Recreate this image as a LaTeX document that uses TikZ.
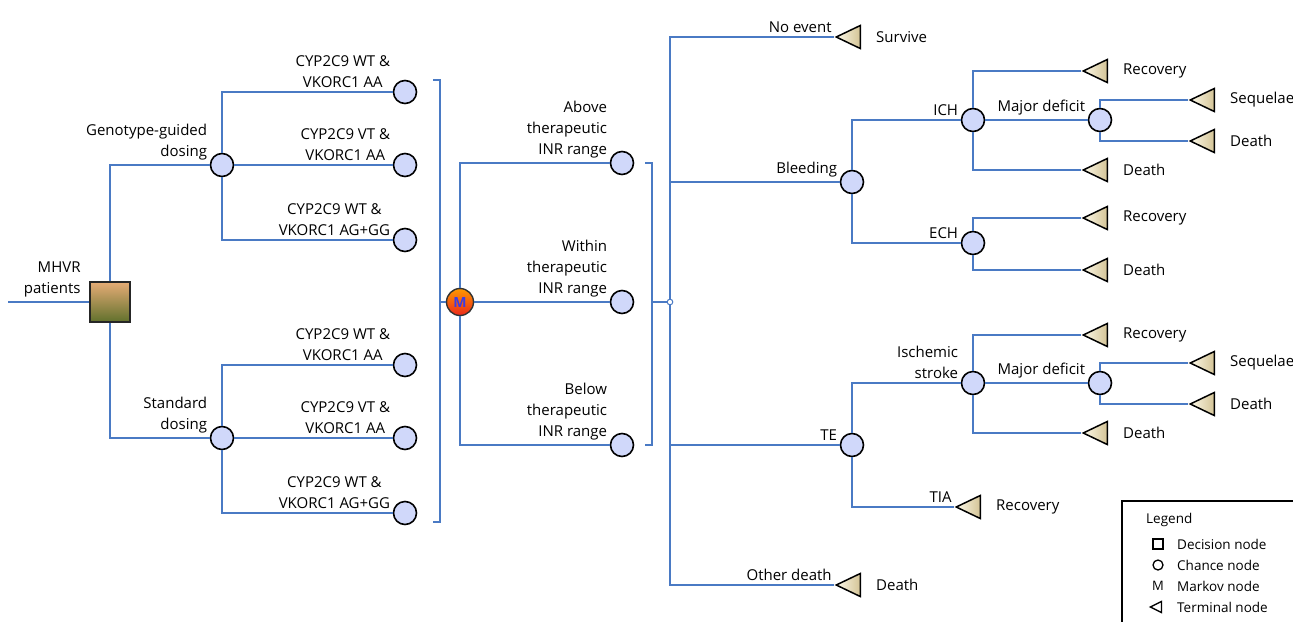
\documentclass[tikz,border=0pt]{standalone}
\usepackage{fontspec}
\setmainfont{Open Sans}
\usetikzlibrary{shapes.geometric}
\definecolor{branchblue}{RGB}{74,122,196}
\definecolor{chancefill}{RGB}{208,216,250}
\definecolor{termlight}{RGB}{252,248,232}
\definecolor{termdark}{RGB}{212,196,150}
\tikzset{
	branch/.style={draw=branchblue, line width=1.3pt},
	chance/.style={circle, draw=black, line width=1.6pt, fill=chancefill,
			minimum size=23pt, inner sep=0pt},
	terminal/.style={isosceles triangle, shape border rotate=180,
			isosceles triangle stretches, draw=black, line width=1.5pt,
			left color=termlight, right color=termdark,
			minimum width=23pt, minimum height=24pt, inner sep=0pt},
	decision/.style={rectangle, draw=black!85, line width=1.6pt,
			top color={rgb,255:red,230;green,172;blue,118},
			middle color={rgb,255:red,196;green,104;blue,52},
			bottom color={rgb,255:red,96;green,112;blue,44},
			minimum size=40pt, inner sep=0pt},
	markov/.style={circle, draw=black!80, line width=1.4pt,
			top color={rgb,255:red,255;green,152;blue,0},
			bottom color={rgb,255:red,236;green,40;blue,28},
			minimum size=27pt, inner sep=0pt,
			text={rgb,255:red,60;green,60;blue,230}, font=\bfseries\fontsize{14}{14}\selectfont},
	lbl/.style={anchor=south east, align=right, inner sep=2pt, yshift=2pt,
			font=\fontsize{15}{21}\selectfont},
	res/.style={inner sep=2pt, font=\fontsize{15}{21}\selectfont},
	legtext/.style={anchor=west, inner sep=0pt, font=\fontsize{13.5}{15}\selectfont}
}
\begin{document}
\begin{tikzpicture}[x=1pt, y=-1pt, label distance=13pt]
	\useasboundingbox (0,0) rectangle (1293,622);

	% decision and strategies
	\coordinate (st) at (8,302);
	\node[decision] (D) at (110,302) {};
	\node[chance] (g) at (222,165) {};
	\node[chance] (s) at (222,438) {};
	\draw[branch] (st) -- (D) node[pos=1, lbl, xshift=-6pt] {MHVR\\patients};
	\draw[branch] (D) |- (g) node[pos=1, lbl] {Genotype-guided\\dosing};
	\draw[branch] (D) |- (s) node[pos=1, lbl] {Standard\\dosing};

	% genotypes
	\node[chance] (g1) at (405,92) {};
	\node[chance] (g2) at (405,165) {};
	\node[chance] (g3) at (405,240) {};
	\node[chance] (s1) at (405,365) {};
	\node[chance] (s2) at (405,438) {};
	\node[chance] (s3) at (405,513) {};
	\draw[branch] (g) |- (g1) node[pos=1, lbl, align=center] {CYP2C9 WT \&\\VKORC1 AA};
	\draw[branch] (g) -- (g2) node[pos=1, lbl, align=center] {CYP2C9 VT \&\\VKORC1 AA};
	\draw[branch] (g) |- (g3) node[pos=1, lbl, align=center] {CYP2C9 WT \&\\VKORC1 AG+GG};
	\draw[branch] (s) |- (s1) node[pos=1, lbl, align=center] {CYP2C9 WT \&\\VKORC1 AA};
	\draw[branch] (s) -- (s2) node[pos=1, lbl, align=center] {CYP2C9 VT \&\\VKORC1 AA};
	\draw[branch] (s) |- (s3) node[pos=1, lbl, align=center] {CYP2C9 WT \&\\VKORC1 AG+GG};

	% Markov states
	\draw[branch] (433,80) -- (440,80) -- (440,522) -- (433,522);
	\coordinate (lb) at (440,302);
	\node[markov] (M) at (460,302) {M};
	\draw[branch] (lb) -- (M);
	\node[chance] (ab) at (622,163) {};
	\node[chance] (wi) at (622,302) {};
	\node[chance] (be) at (622,445) {};
	\draw[branch] (M) |- (ab) node[pos=1, lbl] {Above\\therapeutic\\INR range};
	\draw[branch] (M) -- (wi) node[pos=1, lbl] {Within\\therapeutic\\INR range};
	\draw[branch] (M) |- (be) node[pos=1, lbl] {Below\\therapeutic\\INR range};
	\draw[branch] (645,163) -- (652,163) -- (652,445) -- (645,445);
	\coordinate (rb) at (652,302);
	\coordinate (j) at (670,302);

	% events
	\node[terminal, label={[res]right:Survive}] (t0) at (853,37) {};
	\node[chance] (bl) at (852,182) {};
	\node[chance] (te) at (852,445) {};
	\node[terminal, label={[res]right:Death}] (t9) at (853,585) {};
	\draw[branch] (rb) -- (j);
	\draw[branch] (j) |- (t0) node[pos=1, lbl] {No event};
	\draw[branch] (j) |- (bl) node[pos=1, lbl] {Bleeding};
	\draw[branch] (j) |- (te) node[pos=1, lbl] {TE};
	\draw[branch] (j) |- (t9) node[pos=1, lbl] {Other death};
	\draw[branch, fill=white, line width=1pt] (j) circle (2.8pt);

	% bleeding
	\node[chance] (ich) at (973,120) {};
	\node[chance] (ech) at (973,243) {};
	\draw[branch] (bl) |- (ich) node[pos=1, lbl] {ICH};
	\draw[branch] (bl) |- (ech) node[pos=1, lbl] {ECH};
	\node[terminal, label={[res]right:Recovery}] (r1) at (1100,71) {};
	\node[chance] (md1) at (1100,120) {};
	\node[terminal, label={[res]right:Death}] (d1) at (1100,170) {};
	\draw[branch] (ich) |- (r1);
	\draw[branch] (ich) -- (md1) node[pos=1, lbl] {Major deficit};
	\draw[branch] (ich) |- (d1);
	\node[terminal, label={[res]right:Sequelae}] (sq1) at (1207,100) {};
	\node[terminal, label={[res]right:Death}] (d2) at (1207,141) {};
	\draw[branch] (md1) |- (sq1);
	\draw[branch] (md1) |- (d2);
	\node[terminal, label={[res]right:Recovery}] (r2) at (1100,218) {};
	\node[terminal, label={[res]right:Death}] (d3) at (1100,270) {};
	\draw[branch] (ech) |- (r2);
	\draw[branch] (ech) |- (d3);

	% thromboembolism
	\node[chance] (is) at (973,383) {};
	\node[terminal, label={[res]right:Recovery}] (tia) at (973,507) {};
	\draw[branch] (te) |- (is) node[pos=1, lbl] {Ischemic\\stroke};
	\draw[branch] (te) |- (tia) node[pos=1, lbl] {TIA};
	\node[terminal, label={[res]right:Recovery}] (r3) at (1100,335) {};
	\node[chance] (md2) at (1100,383) {};
	\node[terminal, label={[res]right:Death}] (d4) at (1100,433) {};
	\draw[branch] (is) |- (r3);
	\draw[branch] (is) -- (md2) node[pos=1, lbl] {Major deficit};
	\draw[branch] (is) |- (d4);
	\node[terminal, label={[res]right:Sequelae}] (sq2) at (1207,363) {};
	\node[terminal, label={[res]right:Death}] (d5) at (1207,404) {};
	\draw[branch] (md2) |- (sq2);
	\draw[branch] (md2) |- (d5);

	% legend
	\draw[line width=2pt] (1293,501) -- (1122,501) -- (1122,622);
	\node[legtext] (leg) at (1146,520) {Legend};
	\node[draw, line width=1.3pt, minimum size=10pt, inner sep=0pt] (lsq) at (1158,544) {};
	\node[draw, circle, line width=1.3pt, minimum size=10pt, inner sep=0pt] (lci) at (1158,565) {};
	\node[font=\fontsize{13}{13}\selectfont, inner sep=0pt] (lm) at (1158,586) {M};
	\node[isosceles triangle, shape border rotate=180, isosceles triangle stretches,
		draw, line width=1.3pt, minimum width=11pt, minimum height=11pt, inner sep=0pt] (ltr) at (1158,607) {};
	\node[legtext] at (1177,544) {Decision node};
	\node[legtext] at (1177,565) {Chance node};
	\node[legtext] at (1177,586) {Markov node};
	\node[legtext] at (1177,607) {Terminal node};
\end{tikzpicture}
\end{document}
